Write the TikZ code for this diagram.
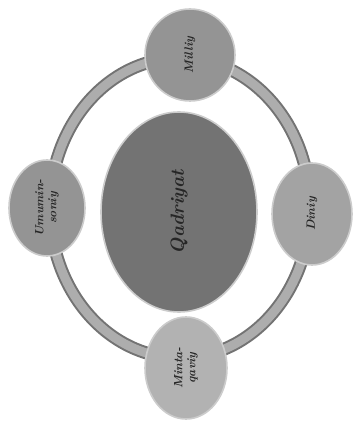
\documentclass[tikz,border=0pt]{standalone}
\usepackage{tikz}
\usetikzlibrary{shapes.geometric}
\tikzset{bubble/.style={ellipse,draw=black!20,line width=1.6pt,fill=black!42,rotate=90,inner sep=0pt,
  align=center,text=black!85,font=\bfseries\itshape\fontsize{12}{13}\selectfont}}

\begin{document}
\begin{tikzpicture}[x=1pt,y=-1pt]
    \useasboundingbox (0,0) rectangle (356,422);

    % Ring
    \draw[line width=13pt,black!55] (180,208) ellipse [x radius=130,y radius=150];
    \draw[line width=9pt,black!32] (180,208) ellipse [x radius=130,y radius=150];

    % Centre
    \node[bubble,fill=black!55,minimum width=200pt,minimum height=156pt,
      font=\bfseries\itshape\fontsize{19}{22}\selectfont] (qadriyat) at (179,212) {Qadriyat};

    % Small bubbles
    \node[bubble,minimum width=92pt,minimum height=90pt] (milliy) at (190,55) {Milliy};
    \node[bubble,minimum width=96pt,minimum height=76pt] (umuminsoniy) at (47,208) {Umumin-\\soniy};
    \node[bubble,fill=black!36,minimum width=102pt,minimum height=80pt] (diniy) at (312,214) {Diniy};
    \node[bubble,fill=black!30,minimum width=102pt,minimum height=82pt] (mintaqaviy) at (186,368) {Minta-\\qaviy};
\end{tikzpicture}
\end{document}
